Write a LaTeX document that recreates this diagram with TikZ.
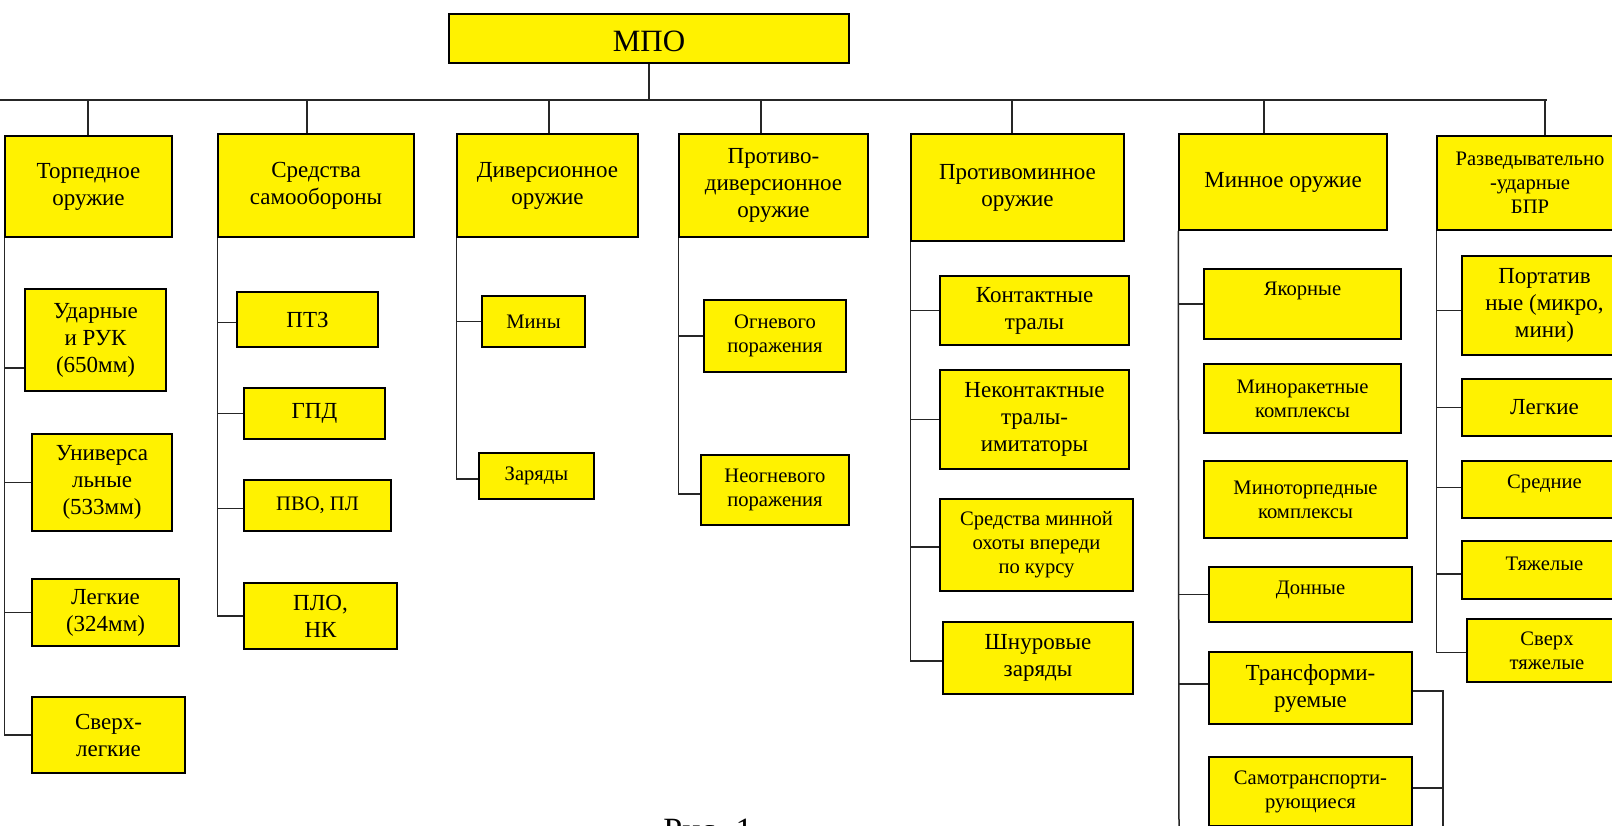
\documentclass[tikz,border=0pt]{standalone}
\usepackage{fontspec}
\setmainfont{Liberation Serif}
\usetikzlibrary{fit}
\tikzset{
  bx/.style={draw=black, fill=yellow, line width=0.75pt, inner sep=0pt},
  big/.style={font=\fontsize{11.5}{13.5}\selectfont, align=center, inner sep=0pt},
  sml/.style={font=\fontsize{10.3}{12}\selectfont, align=center, inner sep=0pt},
  mpofont/.style={font=\fontsize{15.5}{18}\selectfont, inner sep=0pt},
  ln/.style={draw=black!85, line width=0.75pt},
}
% box: [text yshift]{name}{x1}{y1}{x2}{y2}{font style}{text}
\newcommand{\bx}[8][0pt]{%
  \node[bx, fit={(#3,#4) (#5,#6)}] (#2) {};
  \node[#7, yshift=#1] (#2t) at (#2.center) {#8};
}
% branch: [yshift]{child}{parent}
\newcommand{\br}[3][0pt]{%
  \draw[ln] ([yshift=#1]#2.west -| #3.south west) -- ([yshift=#1]#2.west);
}
\begin{document}
\begin{tikzpicture}[x=0.5pt, y=-0.5pt]
\useasboundingbox (0,0) rectangle (1612,825);
\fill[white] (0,0) rectangle (1612,825);
\clip (0,0) rectangle (1612,825);

% top
\bx[-1.5pt]{mpo}{449}{14}{849}{63}{mpofont}{МПО}

% level 1
\bx{T}{5}{136}{172}{237}{big}{Торпедное\\оружие}
\bx{S}{218}{134}{414}{237}{big}{Средства\\самообороны}
\bx{D}{457}{134}{638}{237}{big}{Диверсионное\\оружие}
\bx{P}{679}{134}{868}{237}{big}{Противо-\\диверсионное\\оружие}
\bx{M}{911}{134}{1124}{241}{big}{Противоминное\\оружие}
\bx{N}{1179}{134}{1387}{230}{big}{Минное оружие}
\bx{R}{1437}{136}{1623}{230}{sml}{Разведывательно\\-ударные\\БПР}

% bus
\coordinate (busL) at (0,100);
\coordinate (busR) at (1547,100);
\draw[ln] (busL) -- (busR);
\draw[ln] (mpo.south) -- (mpo.south |- busL);
\coordinate (dT) at (88,100);
\coordinate (dS) at (307,100);
\coordinate (dD) at (549,100);
\coordinate (dP) at (761,100);
\coordinate (dM) at (1012,100);
\coordinate (dN) at (1264,100);
\coordinate (dR) at (1545,100);
\draw[ln] (dT) -- (dT |- T.north);
\draw[ln] (dS) -- (dS |- S.north);
\draw[ln] (dD) -- (dD |- D.north);
\draw[ln] (dP) -- (dP |- P.north);
\draw[ln] (dM) -- (dM |- M.north);
\draw[ln] (dN) -- (dN |- N.north);
\draw[ln] (dR) -- (dR |- R.north);

% torpedo
\bx{T1}{25}{289}{166}{391}{big}{Ударные\\и РУК\\(650мм)}
\bx{T2}{32}{434}{172}{531}{big}{Универса\\льные\\(533мм)}
\bx{T3}{32}{579}{179}{646}{big}{Легкие\\(324мм)}
\bx{T4}{32}{697}{185}{773}{big}{Сверх-\\легкие}
\draw[ln] (T.south west) -- (T4.west -| T.south west);
\br[-14pt]{T1}{T}
\br{T2}{T}
\br{T3}{T}
\br{T4}{T}

% self-defence
\bx{S1}{237}{292}{378}{347}{big}{ПТЗ}
\bx{S2}{244}{388}{385}{439}{big}{ГПД}
\bx{S3}{244}{480}{391}{531}{sml}{ПВО, ПЛ}
\bx{S4}{244}{583}{397}{649}{big}{ПЛО,\\НК}
\draw[ln] (S.south west) -- (S4.west -| S.south west);
\br[-1.5pt]{S1}{S}
\br{S2}{S}
\br[-1.5pt]{S3}{S}
\br{S4}{S}

% diversion
\bx{D1}{482}{296}{585}{347}{sml}{Мины}
\bx{D2}{479}{453}{594}{499}{sml}{Заряды}
\draw[ln] (D.south west) -- ([yshift=-1.5pt]D2.west -| D.south west);
\br{D1}{D}
\br[-1.5pt]{D2}{D}

% anti-diversion
\bx{P1}{704}{300}{846}{372}{sml}{Огневого\\поражения}
\bx{P2}{701}{455}{849}{525}{sml}{Неогневого\\поражения}
\draw[ln] (P.south west) -- ([yshift=-2pt]P2.west -| P.south west);
\br{P1}{P}
\br[-2pt]{P2}{P}

% anti-mine
\bx{M1}{940}{276}{1129}{345}{big}{Контактные\\тралы}
\bx{M2}{940}{370}{1129}{469}{big}{Неконтактные\\тралы-\\имитаторы}
\bx{M3}{940}{499}{1133}{591}{sml}{Средства минной\\охоты впереди\\по курсу}
\bx{M4}{943}{622}{1133}{694}{big}{Шнуровые\\заряды}
\draw[ln] (M.south west) -- ([yshift=-1.5pt]M4.west -| M.south west);
\br{M1}{M}
\br{M2}{M}
\br[-1pt]{M3}{M}
\br[-1.5pt]{M4}{M}

% mines
\bx[6.5pt]{N1}{1204}{269}{1401}{339}{sml}{Якорные}
\bx{N2}{1204}{364}{1401}{433}{sml}{Миноракетные\\комплексы}
\bx{N3}{1204}{461}{1407}{538}{sml}{Миноторпедные\\комплексы}
\bx[2.5pt]{N4}{1209}{567}{1412}{622}{sml}{Донные}
\bx{N5}{1209}{652}{1412}{724}{big}{Трансформи-\\руемые}
\bx{N6}{1209}{757}{1412}{826}{sml}{Самотранспорти-\\рующиеся}
\coordinate (eN) at (1179,830);
\draw[ln] (N.south west) -- (eN);
\br{N1}{N}
\br{N4}{N}
\br[2pt]{N5}{N}
\coordinate (brB) at (1443,830);
\draw[ln] ([yshift=-1.5pt]N5.east) -- ([yshift=-1.5pt]N5.east -| brB) -- (brB);
\draw[ln] ([yshift=1.75pt]N6.east) -- ([yshift=1.75pt]N6.east -| brB);

% recon-strike
\bx{R1}{1462}{256}{1627}{355}{big}{Портатив\\ные (микро,\\мини)}
\bx{R2}{1462}{379}{1627}{436}{big}{Легкие}
\bx[3pt]{R3}{1462}{461}{1627}{518}{sml}{Средние}
\bx[3pt]{R4}{1462}{541}{1627}{599}{sml}{Тяжелые}
\bx{R5}{1467}{619}{1627}{682}{sml}{Сверх\\тяжелые}
\draw[ln] (R.south west) -- ([yshift=-1pt]R5.west -| R.south west);
\br[-2.5pt]{R1}{R}
\br{R2}{R}
\br[1pt]{R3}{R}
\br[-2pt]{R4}{R}
\br[-1pt]{R5}{R}

% caption
\node[font=\fontsize{17}{20}\selectfont, anchor=base, inner sep=0pt] (cap) at (708,841) {Рис. 1};
\end{tikzpicture}
\end{document}
